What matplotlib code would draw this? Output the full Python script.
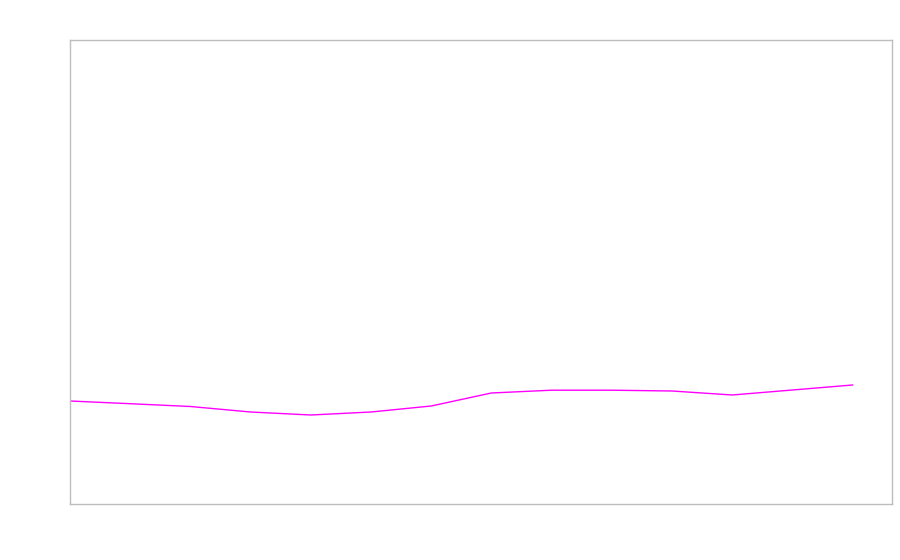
import matplotlib
matplotlib.use("Agg")
import matplotlib.pyplot as plt

x_index = list(range(14))
values = [103.0, 100.3, 97.5, 92.0, 89.0, 92.0, 98.0, 111.0, 113.8, 113.8, 113.0, 109.0, 114.0, 119.0]

fig = plt.figure(figsize=(9, 5.6), dpi=100)
ax = fig.add_axes([70/900, 56/560, 822/900, 464/560])
ax.plot(x_index, values, color="#ff00ff", linewidth=1.0)
ax.set_xlim(0, 822/60.2)
ax.set_ylim(0, 464)
ax.set_xticks([])
ax.set_yticks([])
for s in ax.spines.values():
    s.set_color("#bdbdbd")
    s.set_linewidth(1.0)
fig.savefig("out.png", dpi=100)
